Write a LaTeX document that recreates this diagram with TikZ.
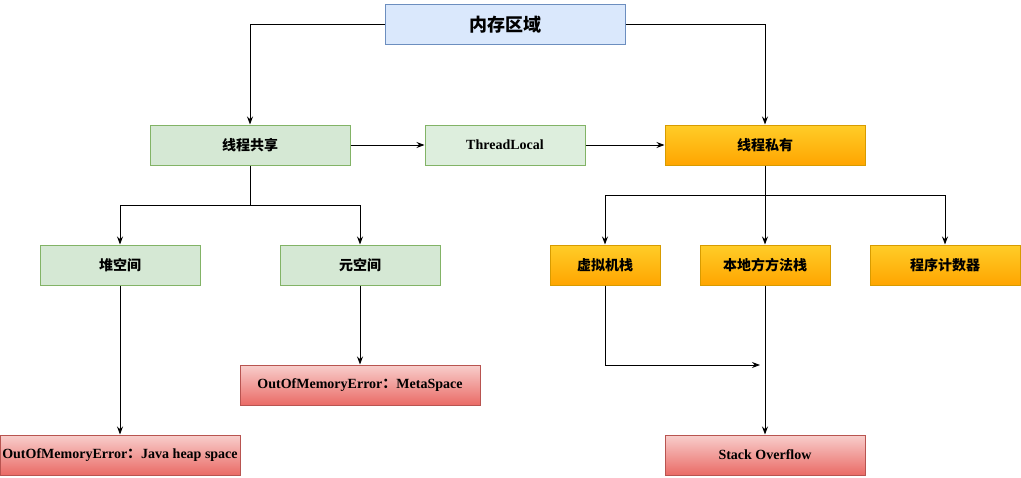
\documentclass[tikz,border=0pt]{standalone}
\usepackage{fontspec}
\setmainfont{Liberation Serif}
\newfontfamily\cjk{Noto Sans CJK SC}
\usetikzlibrary{arrows.meta}
\tikzset{
  box/.style={draw, rectangle, minimum height=30pt, inner sep=0pt, line width=0.75pt,
    font=\bfseries\fontsize{10.5}{12}\selectfont},
  cjkbox/.style={font=\cjk\bfseries\fontsize{10.5}{12}\selectfont},
  blue/.style={box, fill=blueF, draw=blueD},
  green/.style={box, fill=greenF, draw=greenD},
  lgreen/.style={box, fill=lgreenF, draw=greenD},
  orange/.style={box, top color=orangeT, bottom color=orangeB, draw=orangeD},
  red/.style={box, top color=redT, bottom color=redB, draw=redD},
  link/.style={-{Stealth[length=6pt,width=4.5pt]}, line width=0.75pt}
}
\definecolor{blueF}{HTML}{DAE8FC}
\definecolor{blueD}{HTML}{6C8EBF}
\definecolor{greenF}{HTML}{D5E8D4}
\definecolor{lgreenF}{HTML}{DDEEDD}
\definecolor{greenD}{HTML}{82B366}
\definecolor{orangeT}{HTML}{FFCD28}
\definecolor{orangeB}{HTML}{FFA500}
\definecolor{orangeD}{HTML}{D79B00}
\definecolor{redT}{HTML}{F8CECC}
\definecolor{redB}{HTML}{EA6B66}
\definecolor{redD}{HTML}{B85450}
\begin{document}
\begin{tikzpicture}[x=0.75pt,y=-0.75pt]
  \useasboundingbox (0,0) rectangle (1021,478);
  \node[blue, minimum width=180pt, font=\cjk\bfseries\fontsize{13.5}{15}\selectfont] (mem) at (505,25) {内存区域};
  \node[green, minimum width=150pt, cjkbox] (shared) at (250,145) {线程共享};
  \node[lgreen, minimum width=120pt] (tl) at (505,145) {ThreadLocal};
  \node[orange, minimum width=150pt, cjkbox] (private) at (765,145) {线程私有};
  \node[green, minimum width=120pt, cjkbox] (heap) at (120,265) {堆空间};
  \node[green, minimum width=120pt, cjkbox] (meta) at (360,265) {元空间};
  \node[orange, minimum width=82.5pt, cjkbox] (vmstack) at (605,265) {虚拟机栈};
  \node[orange, minimum width=97.5pt, cjkbox] (native) at (765,265) {本地方方法栈};
  \node[orange, minimum width=112.5pt, cjkbox] (pc) at (945,265) {程序计数器};
  \node[red, minimum width=180pt] (oommeta) at (360,385) {OutOfMemoryError{\cjk ：}MetaSpace};
  \node[red, minimum width=180pt] (oomheap) at (120,455) {OutOfMemoryError{\cjk ：}Java heap space};
  \node[red, minimum width=150pt] (so) at (765,455) {Stack Overflow};
  \coordinate (sj) at (250,205);
  \coordinate (pj) at (765,195);
  \coordinate (vj) at (760,365);
  \draw[link] (mem.west) -| (shared.north);
  \draw[link] (mem.east) -| (private.north);
  \draw[link] (shared) -- (tl);
  \draw[link] (tl) -- (private);
  \draw[line width=0.75pt] (shared.south) -- (sj);
  \draw[link] (sj) -| (heap.north);
  \draw[link] (sj) -| (meta.north);
  \draw[line width=0.75pt] (private.south) -- (pj);
  \draw[link] (pj) -| (vmstack.north);
  \draw[link] (pj) -| (pc.north);
  \draw[link] (pj) -- (native.north);
  \draw[link] (heap) -- (oomheap);
  \draw[link] (meta) -- (oommeta);
  \draw[link] (vmstack.south) |- (vj);
  \draw[link] (native) -- (so);
\end{tikzpicture}
\end{document}
